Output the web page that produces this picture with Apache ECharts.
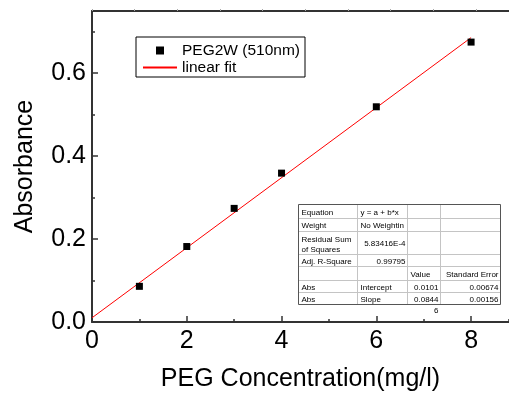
<!DOCTYPE html>
<html>
<head>
<meta charset="utf-8">
<script src="https://cdn.jsdelivr.net/npm/echarts@6/dist/echarts.min.js"></script>
<style>
html,body{margin:0;padding:0;background:#fff;}
#chart{width:509px;height:397px;}
</style>
</head>
<body>
<div id="chart"></div>
<script>
// ---- data ----
const concentration = [1, 2, 3, 4, 6, 8];
const absorbance = [0.086, 0.182, 0.274, 0.359, 0.519, 0.675];
const fitX = [0, 8];
const fitY = [0.0101, 0.6858];
const seriesNames = ['PEG2W (510nm)', 'linear fit'];
const xTitle = 'PEG Concentration(mg/l)';
const yTitle = 'Absorbance';
// fit table (rows)
const tableCol0 = ['Equation', 'Weight', 'Residual Sum\nof Squares', 'Adj. R-Square', '', 'Abs', 'Abs'];
const tableCol1 = ['y = a + b*x', 'No Weightin', '5.83416E-4', '0.99795', '', 'Intercept', 'Slope'];
const tableCol2 = ['', '', '', '', 'Value', '0.0101', '0.0844'];
const tableCol3 = ['', '', '', '', 'Standard Error', '0.00674', '0.00156'];

const FONT = '"Liberation Sans", Arial, sans-serif';
const chart = echarts.init(document.getElementById('chart'), null, {renderer: 'canvas'});

// table geometry
const colX = [298.5, 357.5, 407.5, 440.5, 500.5];
const rowY = [204.5, 218.5, 231.5, 254.5, 266.5, 280.5, 292.5, 304.5];
const tableEls = [];
tableEls.push({type: 'rect', shape: {x: colX[0], y: rowY[0], width: colX[4] - colX[0], height: rowY[7] - rowY[0]},
  style: {fill: '#fff', stroke: 'none'}});
for (let i = 1; i < rowY.length - 1; i++) {
  tableEls.push({type: 'line', shape: {x1: colX[0], y1: rowY[i], x2: colX[4], y2: rowY[i]}, style: {stroke: '#c4c4c4', lineWidth: 1}});
}
for (let j = 1; j < colX.length - 1; j++) {
  tableEls.push({type: 'line', shape: {x1: colX[j], y1: rowY[0], x2: colX[j], y2: rowY[7]}, style: {stroke: '#c4c4c4', lineWidth: 1}});
}
tableEls.push({type: 'rect', shape: {x: colX[0], y: rowY[0], width: colX[4] - colX[0], height: rowY[7] - rowY[0]},
  style: {fill: 'none', stroke: '#555', lineWidth: 1}});
function cellText(txt, col, row, align) {
  if (!txt) return;
  const lines = txt.split('\n').length;
  const x = align === 'right' ? colX[col + 1] - 2 : colX[col] + 3;
  const y = lines > 1 ? rowY[row] + 3 : (rowY[row] + rowY[row + 1]) / 2 + 1;
  tableEls.push({type: 'text', x: x, y: y, style: {text: txt, fill: '#000', font: '8px ' + FONT,
    align: align, verticalAlign: lines > 1 ? 'top' : 'middle', lineHeight: 10}});
}
for (let r = 0; r < 7; r++) {
  cellText(tableCol0[r], 0, r, 'left');
  cellText(tableCol1[r], 1, r, (r === 2 || r === 3) ? 'right' : 'left');
  cellText(tableCol2[r], 2, r, r === 4 ? 'left' : 'right');
  cellText(tableCol3[r], 3, r, 'right');
}
tableEls.push({type: 'text', x: colX[3] - 2, y: rowY[7] + 2, style: {text: '6', fill: '#000', font: '8px ' + FONT, align: 'right', verticalAlign: 'top'}});

const xRange = {min: 0, max: 8.8};
const yRange = {min: 0, max: 0.75};

chart.setOption({
  backgroundColor: '#fff',
  animation: false,
  grid: {left: 92, top: 11, width: 418, height: 313, containLabel: false},
  legend: {
    orient: 'vertical', left: 136, top: 37,
    padding: [5, 5, 1, 6], itemGap: 0,
    itemWidth: 34, itemHeight: 8,
    borderColor: '#000', borderWidth: 1, backgroundColor: '#fff',
    textStyle: {fontFamily: FONT, fontSize: 15.5, color: '#000', lineHeight: 17},
    data: [
      {name: seriesNames[0], icon: 'path://M0,0h8v8h-8z', itemStyle: {color: '#000', opacity: 1}},
      {name: seriesNames[1], itemStyle: {opacity: 0}}
    ]
  },
  xAxis: [
    {type: 'value', position: 'bottom', min: xRange.min, max: xRange.max, interval: 2,
     axisLine: {show: true, onZero: false, lineStyle: {color: '#333', width: 2}},
     axisTick: {show: true, inside: true, length: 6, lineStyle: {color: '#333', width: 1.5}},
     axisLabel: {show: true, margin: 7, fontSize: 25, fontFamily: FONT, color: '#000', showMaxLabel: false},
     splitLine: {show: false},
     name: xTitle, nameLocation: 'middle', nameGap: 45,
     nameTextStyle: {fontSize: 25, fontFamily: FONT, color: '#000'}},
    {type: 'value', position: 'bottom', min: xRange.min, max: xRange.max, interval: 1,
     axisLine: {show: false, onZero: false},
     axisTick: {show: true, inside: true, length: 3, lineStyle: {color: '#333', width: 1.5}},
     axisLabel: {show: false}, splitLine: {show: false}},
    {type: 'value', position: 'top', min: xRange.min, max: xRange.max, interval: 0.9,
     axisLine: {show: true, onZero: false, lineStyle: {color: '#333', width: 2}},
     axisTick: {show: true, inside: false, length: 2, lineStyle: {color: '#aaa', width: 1}},
     axisLabel: {show: false}, splitLine: {show: false}}
  ],
  yAxis: [
    {type: 'value', position: 'left', min: yRange.min, max: yRange.max, interval: 0.2,
     axisLine: {show: true, onZero: false, lineStyle: {color: '#333', width: 2}},
     axisTick: {show: true, inside: true, length: 6, lineStyle: {color: '#333', width: 1.5}},
     axisLabel: {show: true, margin: 6, fontSize: 25, fontFamily: FONT, color: '#000', showMaxLabel: false,
       formatter: v => v.toFixed(1)},
     splitLine: {show: false},
     name: yTitle, nameLocation: 'middle', nameGap: 54,
     nameTextStyle: {fontSize: 25, fontFamily: FONT, color: '#000'}},
    {type: 'value', position: 'left', min: yRange.min, max: yRange.max, interval: 0.1,
     axisLine: {show: false, onZero: false},
     axisTick: {show: true, inside: true, length: 3, lineStyle: {color: '#333', width: 1.5}},
     axisLabel: {show: false}, splitLine: {show: false}}
  ],
  series: [
    {name: seriesNames[0], type: 'scatter', xAxisIndex: 0, yAxisIndex: 0,
     symbol: 'rect', symbolSize: 7, itemStyle: {color: '#000', opacity: 1},
     data: concentration.map((x, i) => [x, absorbance[i]]), z: 3},
    {name: seriesNames[1], type: 'line', xAxisIndex: 0, yAxisIndex: 0,
     symbol: 'none', showSymbol: false, lineStyle: {color: '#ff0000', width: 1}, itemStyle: {color: '#ff0000'},
     data: fitX.map((x, i) => [x, fitY[i]]), z: 2}
  ],
  graphic: [{type: 'group', z: 10, children: tableEls}]
});
</script>
</body>
</html>
